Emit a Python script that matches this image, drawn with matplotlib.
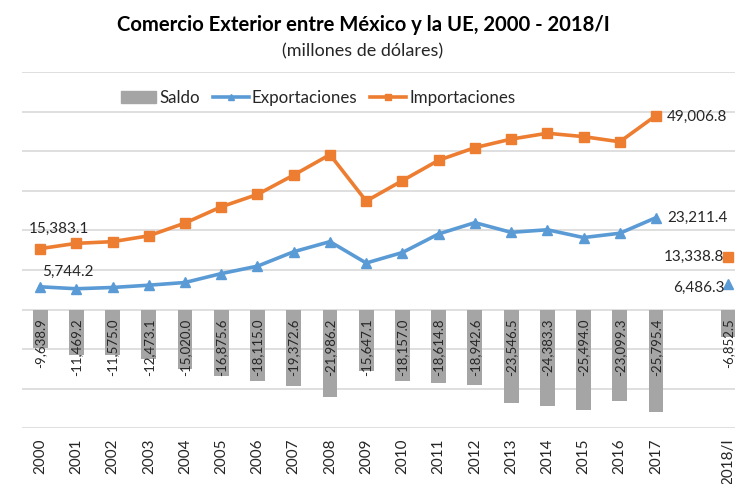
import matplotlib
matplotlib.use("Agg")
import matplotlib.pyplot as plt
from matplotlib.lines import Line2D
from matplotlib.patches import Patch

plt.rcParams["font.family"] = ["Lato", "DejaVu Sans"]

# categories (one empty slot between 2017 and 2018/I, as in the original)
years = ["2000", "2001", "2002", "2003", "2004", "2005", "2006", "2007", "2008",
         "2009", "2010", "2011", "2012", "2013", "2014", "2015", "2016", "2017",
         "", "2018/I"]
pos = [0, 1, 2, 3, 4, 5, 6, 7, 8, 9, 10, 11, 12, 13, 14, 15, 16, 17, 19]

# millones de dólares
saldo = [-9638.9, -11469.2, -11575.0, -12473.1, -15020.0, -16875.6, -18115.0,
         -19372.6, -21986.2, -15647.1, -18157.0, -18614.8, -18942.6, -23546.5,
         -24383.3, -25494.0, -23099.3, -25795.4, -6852.5]
export_ = [5744.2, 5250, 5570, 6150, 6830, 9080, 10960, 14600, 17150, 11750,
           14400, 19100, 21950, 19500, 20150, 18180, 19270, 23211.4, 6486.3]
import_ = [15383.1, 16720, 17145, 18623, 21850, 25956, 29075, 33973, 39136,
           27397, 32557, 37715, 40893, 43047, 44533, 43674, 42369, 49006.8,
           13338.8]

BLUE, ORANGE, GRAY, GRID, INK = "#5B9BD5", "#ED7D31", "#A5A5A5", "#D9D9D9", "#262626"

fig = plt.figure(figsize=(7.35, 4.84), dpi=100)
# axes runs past the right edge, the original picture is cropped there
ax = fig.add_axes([22 / 735, (484 - 428.3) / 484, (746.6 - 22) / 735, (428.3 - 72) / 484])

ax.bar(pos, saldo, width=0.41, color=GRAY, zorder=2)
n = 18  # first 18 years are joined, 2018/I stands alone
ax.plot(pos[:n], export_[:n], color=BLUE, lw=2.6, marker="^", ms=6.5, zorder=3)
ax.plot(pos[:n], import_[:n], color=ORANGE, lw=2.6, marker="s", ms=6.5, zorder=3)
ax.plot(pos[n:], export_[n:], ls="none", color=BLUE, marker="^", ms=6.5, zorder=3, clip_on=False)
ax.plot(pos[n:], import_[n:], ls="none", color=ORANGE, marker="s", ms=6.5, zorder=3, clip_on=False)

for x, v in zip(pos, saldo):
    ax.annotate(f"{v:,.1f}", (x, 0), xytext=(0, -9), textcoords="offset pixels",
                rotation=90, ha="center", va="top", fontsize=9.5, color=INK, zorder=4)

lab = dict(textcoords="offset pixels", fontsize=11, color=INK, va="center")
ax.annotate(f"{import_[0]:,.1f}", (pos[0], import_[0]), xytext=(19, 20), ha="center",
            arrowprops=dict(arrowstyle="-", color="#A6A6A6", lw=0.8, shrinkA=6, shrinkB=4), **lab)
ax.annotate(f"{export_[0]:,.1f}", (pos[0], export_[0]), xytext=(28, 15), ha="center", **lab)
ax.annotate(f"{import_[17]:,.1f}", (pos[17], import_[17]), xytext=(11, -1), ha="left", **lab)
ax.annotate(f"{export_[17]:,.1f}", (pos[17], export_[17]), xytext=(11, 0), ha="left", **lab)
ax.annotate(f"{import_[18]:,.1f}", (pos[18], import_[18]), xytext=(-4, 0), ha="right", **lab)
ax.annotate(f"{export_[18]:,.1f}", (pos[18], export_[18]), xytext=(-4, -4), ha="right", **lab)

ax.set_ylim(-30000, 60000)
ax.set_yticks(range(-30000, 60001, 10000))
ax.set_yticklabels([])
ax.tick_params(axis="y", length=0)
ax.grid(axis="y", color=GRID, lw=1.2, zorder=0)
ax.set_xlim(-0.5, 19.5)
ax.set_xticks(range(20))
ax.set_xticklabels(years, rotation=90, fontsize=11, color=INK)
ax.tick_params(axis="x", length=0, pad=7)
for s in ax.spines.values():
    s.set_visible(False)

handles = [Patch(color=GRAY, label="Saldo"),
           Line2D([], [], color=BLUE, lw=2.6, marker="^", ms=5, label="Exportaciones"),
           Line2D([], [], color=ORANGE, lw=2.6, marker="s", ms=5, label="Importaciones")]
fig.legend(handles=handles, loc="center", bbox_to_anchor=(318 / 735, 1 - 98 / 484), ncol=3,
           frameon=False, fontsize=12.2, handlelength=2.1, handletextpad=0.2, columnspacing=0.75,
           labelcolor=INK)

fig.text(363 / 735, 1 - 25 / 484, "Comercio Exterior entre México y la UE, 2000 - 2018/I",
         ha="center", va="center", fontsize=14.6, fontweight="bold", color="black")
fig.text(363 / 735, 1 - 51 / 484, "(millones de dólares)", ha="center", va="center",
         fontsize=13, color=INK)

fig.savefig("out.png", dpi=100, facecolor="white")
